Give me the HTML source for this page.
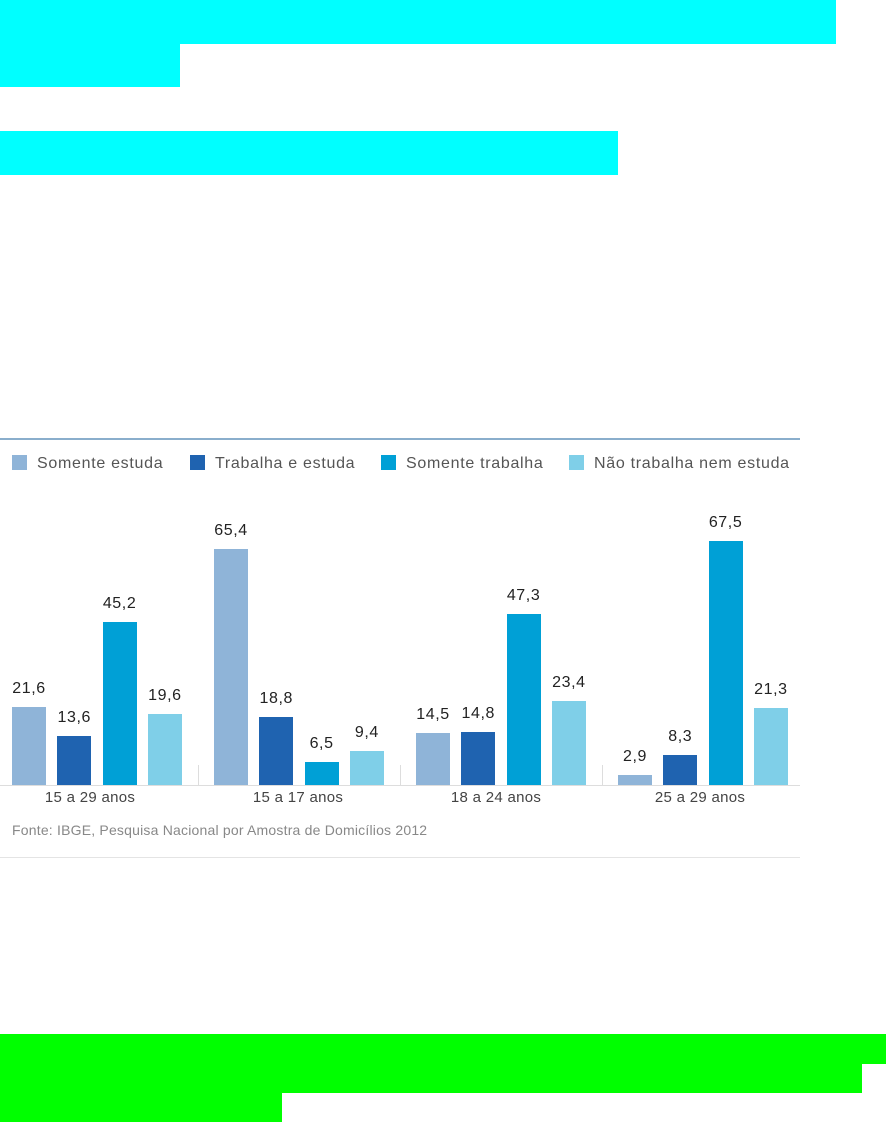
<!DOCTYPE html>
<html><head><meta charset="utf-8"><style>
body{margin:0;width:886px;height:1122px;background:#fff;position:relative;overflow:hidden;font-family:"Liberation Sans",sans-serif}
.b{position:absolute}
.v{position:absolute;width:60px;text-align:center;font-size:16px;letter-spacing:0.6px;color:#222}
.c{position:absolute;width:200px;text-align:center;font-size:15px;letter-spacing:0.3px;color:#444;top:789px}
.lg{position:absolute;top:455px;font-size:16px;letter-spacing:0.7px;color:#555}
.lg i{display:inline-block;width:15px;height:15px;vertical-align:-2px;margin-right:10px}
</style></head><body>
<div class="b" style="left:0;top:0;width:836px;height:44px;background:#00ffff"></div>
<div class="b" style="left:0;top:44px;width:180px;height:43px;background:#00ffff"></div>
<div class="b" style="left:0;top:131px;width:618px;height:44px;background:#00ffff"></div>
<div class="b" style="left:0;top:438px;width:800px;height:2px;background:#8aaecc"></div>
<div class="lg" style="left:12px"><i style="background:#8fb4d8"></i>Somente estuda</div>
<div class="lg" style="left:190px"><i style="background:#1f63b0"></i>Trabalha e estuda</div>
<div class="lg" style="left:381px"><i style="background:#00a0d6"></i>Somente trabalha</div>
<div class="lg" style="left:569px"><i style="background:#7fcfe8"></i>Não trabalha nem estuda</div>
<div id="bars"></div>
<div class="b" style="left:0;top:785px;width:800px;height:1px;background:#ddd"></div>
<div class="b" style="left:198px;top:765px;width:1px;height:20px;background:#ddd"></div>
<div class="b" style="left:400px;top:765px;width:1px;height:20px;background:#ddd"></div>
<div class="b" style="left:602px;top:765px;width:1px;height:20px;background:#ddd"></div>
<div class="c" style="left:-10px">15 a 29 anos</div>
<div class="c" style="left:198px">15 a 17 anos</div>
<div class="c" style="left:396px">18 a 24 anos</div>
<div class="c" style="left:600px">25 a 29 anos</div>
<div class="b" style="left:12px;top:822px;font-size:14px;letter-spacing:0.2px;color:#888">Fonte: IBGE, Pesquisa Nacional por Amostra de Domicílios 2012</div>
<div class="b" style="left:0;top:857px;width:800px;height:1px;background:#e4e4e4"></div>
<div class="b" style="left:0;top:1034px;width:886px;height:30px;background:#00ff00"></div>
<div class="b" style="left:0;top:1063px;width:862px;height:30px;background:#00ff00"></div>
<div class="b" style="left:0;top:1092px;width:282px;height:30px;background:#00ff00"></div>
<script>
var d=[[21.6,13.6,45.2,19.6],[65.4,18.8,6.5,9.4],[14.5,14.8,47.3,23.4],[2.9,8.3,67.5,21.3]];
var col=["#8fb4d8","#1f63b0","#00a0d6","#7fcfe8"],h="";
for(var g=0;g<4;g++)for(var i=0;i<4;i++){var x=12+g*202+i*45.3,v=d[g][i],ht=v*3.61,t=785-ht;
h+='<div class="b" style="left:'+x+'px;top:'+t+'px;width:34px;height:'+ht+'px;background:'+col[i]+'"></div>';
h+='<div class="v" style="left:'+(x-13)+'px;top:'+(t-27)+'px">'+v.toFixed(1).replace('.',',')+'</div>';}
document.getElementById('bars').innerHTML=h;
</script>
</body></html>
